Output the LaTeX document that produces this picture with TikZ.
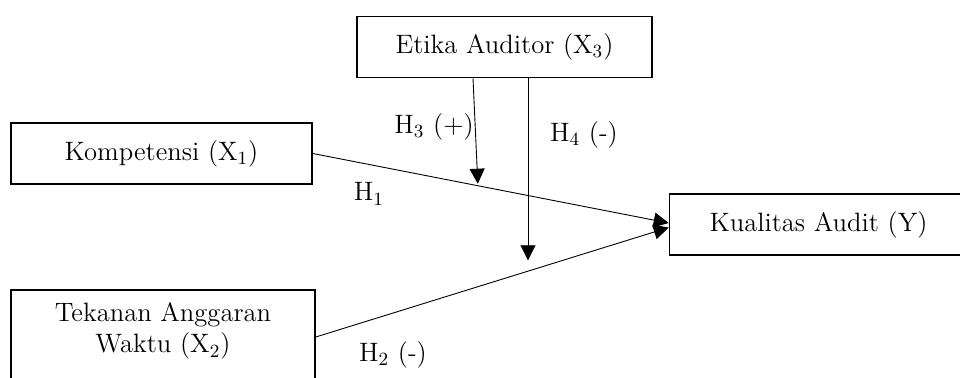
\documentclass[tikz,border=0pt]{standalone}
\usetikzlibrary{calc,arrows.meta}

\begin{document}
\begin{tikzpicture}[x=0.5pt,y=-0.5pt,
  font=\fontsize{13.3}{15.5}\selectfont,
  varbox/.style={draw,line width=0.8pt,inner sep=0pt,minimum height=30.5pt},
  hyp/.style={inner sep=1pt},
  link/.style={line width=0.45pt,-{Triangle[length=7.5pt,width=7.5pt]}}]
  % picture frame (in pixels of the 960x378 layout)
  \useasboundingbox (0,0) rectangle (960,378);

  % the four variables
  \node[varbox,minimum width=147.5pt] (x3) at (504.5,47) {Etika Auditor (X\textsubscript{3})};
  \node[varbox,minimum width=150.5pt] (x1) at (161.5,153.5) {Kompetensi (X\textsubscript{1})};
  \node[varbox,minimum width=149pt] (y) at (818.5,224.5) {Kualitas Audit (Y)};
  \node[varbox,minimum width=152pt,minimum height=47pt,align=center,
        text depth=9pt] (x2) at (163,337) {Tekanan Anggaran\\Waktu (X\textsubscript{2})};

  % direct effects
  \draw[link] (x1.east) -- ($(y.west)+(0,-1.5)$) coordinate (y1);
  \draw[link] (x2.east) -- ($(y.west)+(0,3)$) coordinate (y2);

  % moderation by X3
  \coordinate (m3) at ($(x1.east)!0.4637!(y1)$);
  \coordinate (m4) at ($(x3.south)+(23.5,182)$);
  \draw[link] ($(x3.south)+(-31.5,0)$) -- ($(m3)+(0,-2)$);
  \draw[link] ($(x3.south)+(23.5,0)$) -- (m4);

  % hypothesis labels
  \node[hyp] (h1) at (369,194) {H\textsubscript{1}};
  \node[hyp] (h2) at (393,355) {H\textsubscript{2} (-)};
  \node[hyp] (h3) at (434,127) {H\textsubscript{3} (+)};
  \node[hyp] (h4) at (584,135) {H\textsubscript{4} (-)};
\end{tikzpicture}
\end{document}
